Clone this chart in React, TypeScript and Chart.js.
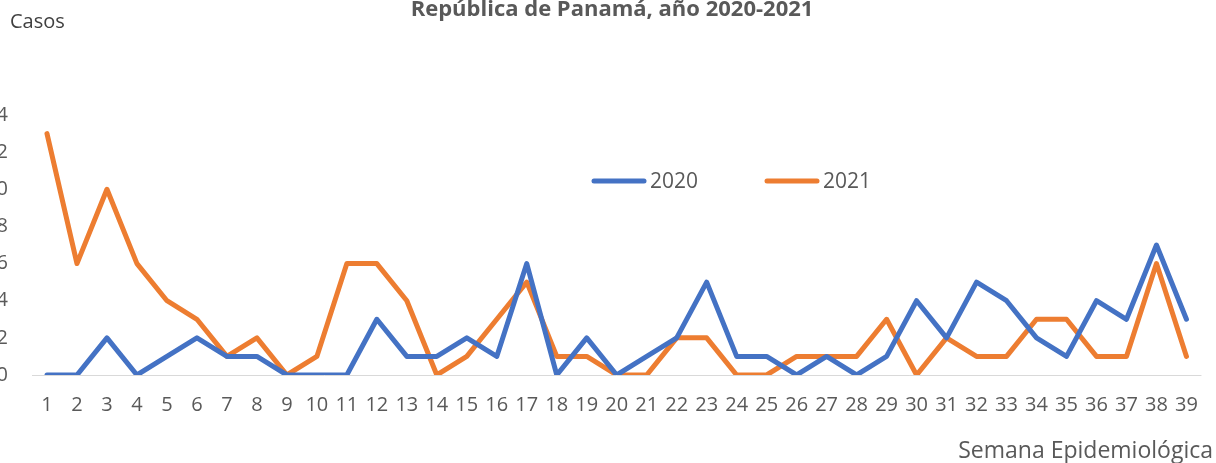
import React, { useEffect, useRef } from "react";
import { Chart, registerables } from "chart.js";

Chart.register(...registerables);

const weeks: string[] = Array.from({ length: 39 }, (_, i) => String(i + 1));
const cases2020: number[] = [0, 0, 2, 0, 1, 2, 1, 1, 0, 0, 0, 3, 1, 1, 2, 1, 6, 0, 2, 0, 1, 2, 5, 1, 1, 0, 1, 0, 1, 4, 2, 5, 4, 2, 1, 4, 3, 7, 3];
const cases2021: number[] = [13, 6, 10, 6, 4, 3, 1, 2, 0, 1, 6, 6, 4, 0, 1, 3, 5, 1, 1, 0, 0, 2, 2, 0, 0, 1, 1, 1, 3, 0, 2, 1, 1, 3, 3, 1, 1, 6, 1];
const seriesLabels: string[] = ["2020", "2021"];
const seriesColors: string[] = ["#4472C4", "#ED7D31"];
const titleText = "República de Panamá, año 2020-2021";
const yTitle = "Casos";
const xTitle = "Semana Epidemiológica";

const FONT = "'Open Sans', 'Liberation Sans', sans-serif";
const GREY = "#595959";

const textPlugin = {
  id: "textPlugin",
  afterDraw(chart: any) {
    const ctx = chart.ctx;
    ctx.save();
    ctx.fillStyle = GREY;
    ctx.textBaseline = "alphabetic";
    // title
    ctx.font = `bold 22px ${FONT}`;
    ctx.textAlign = "center";
    ctx.fillText(titleText, 612, 16);
    // y title
    ctx.fillStyle = "#404040";
    ctx.font = `20px ${FONT}`;
    ctx.textAlign = "left";
    ctx.fillText(yTitle, 10, 28);
    // x title
    ctx.fillStyle = GREY;
    ctx.font = `23px ${FONT}`;
    ctx.textAlign = "right";
    ctx.fillText(xTitle, 1213, 458);
    // legend
    const starts = [592, 765];
    chart.data.datasets.forEach((ds: any, i: number) => {
      const x0 = starts[i];
      const y = 181;
      ctx.strokeStyle = ds.borderColor;
      ctx.lineWidth = 5;
      ctx.lineCap = "round";
      ctx.beginPath();
      ctx.moveTo(x0 + 2, y);
      ctx.lineTo(x0 + 52, y);
      ctx.stroke();
      ctx.fillStyle = GREY;
      ctx.font = `21px ${FONT}`;
      ctx.textAlign = "left";
      ctx.textBaseline = "alphabetic";
      ctx.fillText(ds.label, x0 + 58, 188);
    });
    ctx.restore();
  },
};

export default function App() {
  const canvasRef = useRef<HTMLCanvasElement | null>(null);

  useEffect(() => {
    if (!canvasRef.current) return;
    const chart = new Chart(canvasRef.current, {
      type: "line",
      data: {
        labels: weeks,
        datasets: seriesLabels.map((label, i) => ({
          label,
          data: i === 0 ? cases2020 : cases2021,
          borderColor: seriesColors[i],
          backgroundColor: seriesColors[i],
          borderWidth: 5,
          pointRadius: 0,
          tension: 0,
          borderJoinStyle: "round" as const,
          borderCapStyle: "round" as const,
          fill: false,
        })),
      },
      options: {
        animation: false,
        responsive: true,
        maintainAspectRatio: false,
        layout: { padding: { top: 115, right: 9, bottom: 0, left: 0 } },
        plugins: {
          legend: { display: false },
          title: { display: false },
          tooltip: { enabled: false },
        },
        scales: {
          x: {
            offset: true,
            grid: { display: false, drawTicks: false },
            border: { display: false },
            ticks: {
              autoSkip: false,
              maxRotation: 0,
              padding: 18,
              color: GREY,
              font: { family: FONT, size: 20 },
            },
            afterFit(scale: any) {
              scale.height = 88;
            },
          },
          y: {
            min: 0,
            max: 14,
            grid: {
              drawTicks: false,
              color: (c: any) => (c.tick && c.tick.value === 0 ? "#D9D9D9" : "rgba(0,0,0,0)"),
              lineWidth: 1,
            },
            border: { display: false },
            ticks: {
              stepSize: 2,
              padding: 24,
              color: GREY,
              font: { family: FONT, size: 20 },
            },
            afterFit(scale: any) {
              scale.width = 32;
            },
          },
        },
      },
      plugins: [textPlugin],
    });
    return () => chart.destroy();
  }, []);

  return (
    <div style={{ position: "fixed", left: 0, top: 0, width: 1216, height: 463, background: "#fff" }}>
      <canvas ref={canvasRef} />
    </div>
  );
}
